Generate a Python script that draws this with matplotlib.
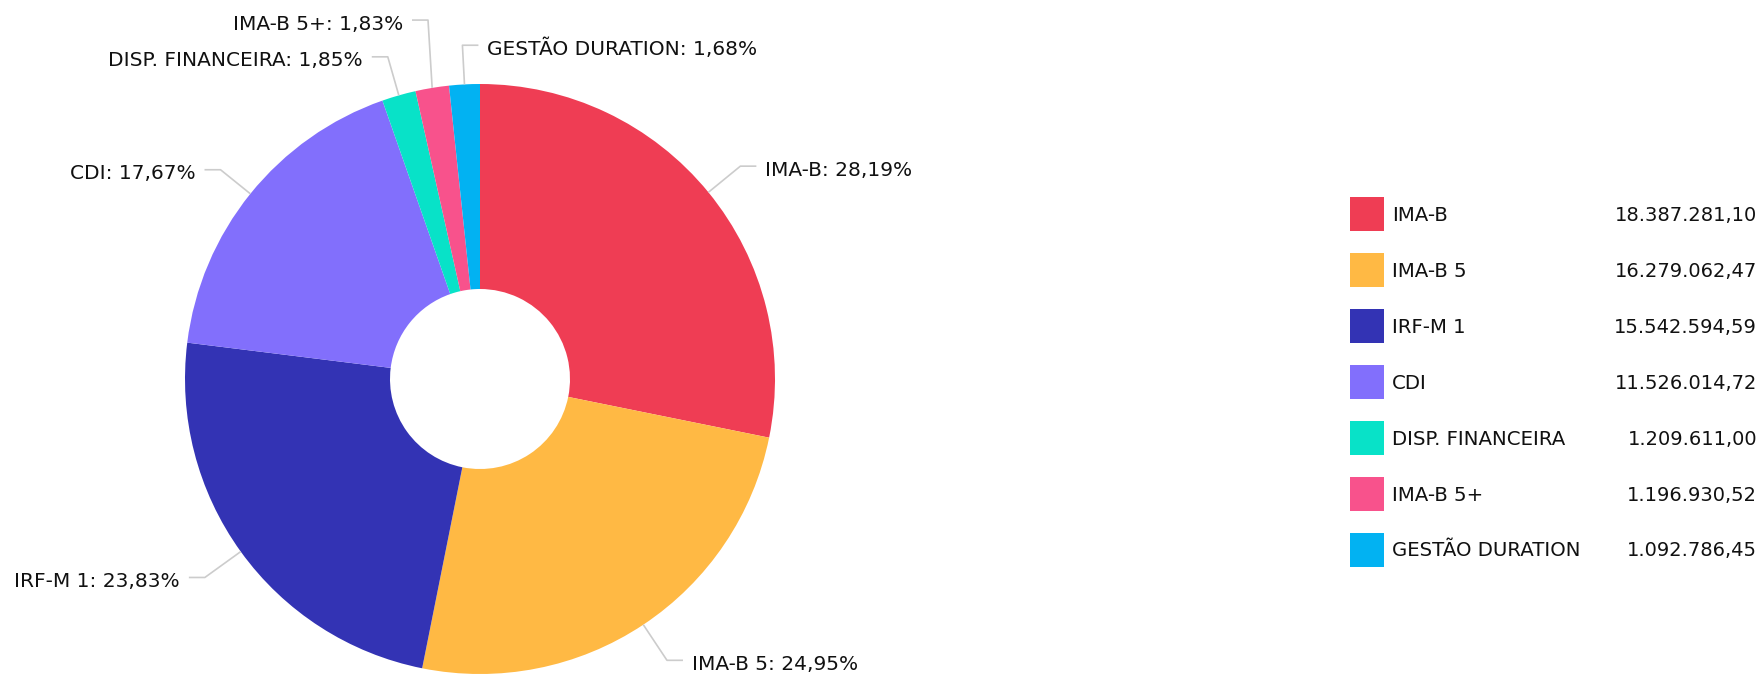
"""Carteira por benchmark: donut with leader labels + value legend."""
import matplotlib
matplotlib.use("Agg")
import matplotlib.pyplot as plt
from matplotlib.patches import Rectangle
import numpy as np

plt.rcParams.update({"font.family": "DejaVu Sans", "text.color": "#111111"})

NAMES = ["IMA-B", "IMA-B 5", "IRF-M 1", "CDI", "DISP. FINANCEIRA", "IMA-B 5+",
         "GESTÃO DURATION"]
VALUES = [18387281.10, 16279062.47, 15542594.59, 11526014.72, 1209611.00,
          1196930.52, 1092786.45]
COLOURS = ["#EF3D54", "#FFB944", "#3333B4", "#826FFC", "#08E2C8", "#F8528C",
           "#02B2F2"]

# label layout: elbow radius along the slice's mid-angle, x nudge (px), side
ELBOW_R = [1.14, 1.145, 1.15, 1.13, 1.136, 1.233, 1.133]
ELBOW_DX = [0, 0, 0, 0, 0, 7, 0]
SIDE = [1, 1, -1, -1, -1, -1, 1]

W, H = 1764, 675
CX, CY, R = 480, 379, 295          # donut centre / radius in pixels
HOLE = 90 / R


def br_money(v):
    return f"{v:,.2f}".replace(",", "X").replace(".", ",").replace("X", ".")


def br_pct(p):
    return f"{p:.2f}".replace(".", ",") + "%"


def px(x, y):
    """pixel (from top-left) -> data coords of the main axes"""
    return (x - CX) / R, (CY - y) / R


fig = plt.figure(figsize=(W / 100, H / 100), dpi=100)
ax = fig.add_axes([0, 0, 1, 1])
ax.pie(VALUES, colors=COLOURS, startangle=90, counterclock=False, radius=1,
       wedgeprops=dict(width=1 - HOLE, linewidth=0))
ax.set_xlim(-CX / R, (W - CX) / R)
ax.set_ylim(-(H - CY) / R, CY / R)
ax.set_aspect("equal")
ax.axis("off")

total = sum(VALUES)
fracs = np.array(VALUES) / total
cum = np.cumsum(fracs) - fracs / 2
for name, f, c, er, dx, side in zip(NAMES, fracs, cum, ELBOW_R, ELBOW_DX, SIDE):
    ang = np.deg2rad(90 - 360 * c)
    x0, y0 = np.cos(ang), np.sin(ang)
    x1, y1 = er * x0 + dx / R, er * y0
    x2 = x1 + side * 16 / R
    ax.plot([x0, x1, x2], [y0, y1, y1], color="#CCCCCC", lw=1.2,
            solid_capstyle="butt", zorder=1)
    ax.text(x2 + side * 9 / R, y1 - 4 / R, f"{name}: {br_pct(f * 100)}",
            ha="left" if side > 0 else "right", va="center", fontsize=14.5)

# legend
for i, (name, v, col) in enumerate(zip(NAMES, VALUES, COLOURS)):
    yc = 214 + 56 * i
    x0, y0 = px(1350, yc + 17)
    ax.add_patch(Rectangle((x0, y0), 34 / R, 34 / R, facecolor=col,
                           edgecolor="none"))
    tx, ty = px(1392, yc + 1)
    ax.text(tx, ty, name, ha="left", va="center", fontsize=14.2)
    vx, _ = px(1757, yc)
    ax.text(vx, ty, br_money(v), ha="right", va="center", fontsize=14)

fig.savefig("out.png", dpi=100, facecolor="white")
